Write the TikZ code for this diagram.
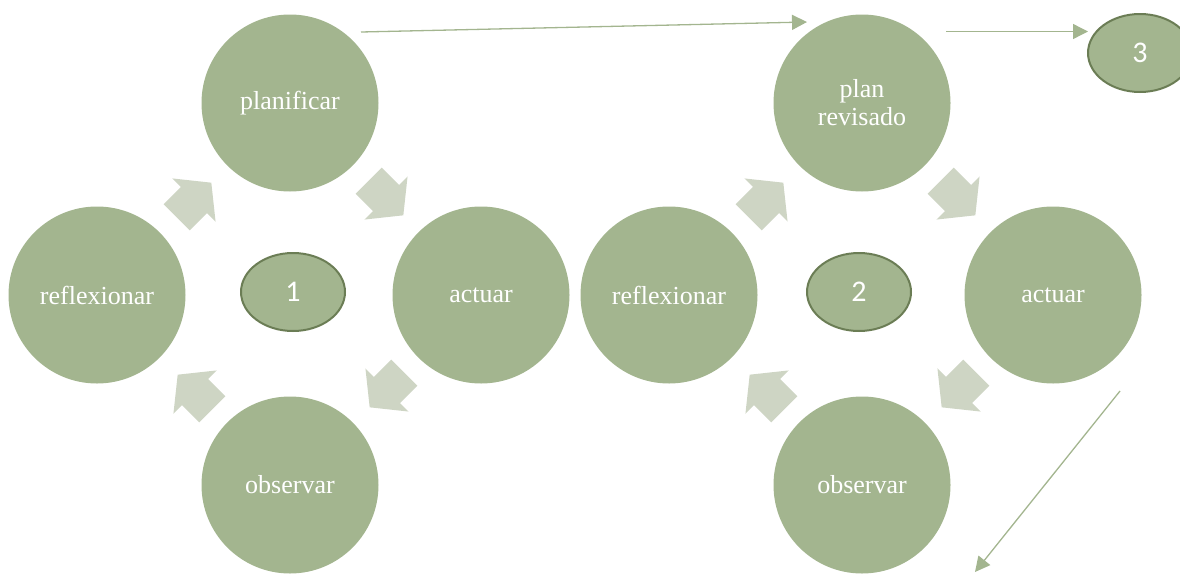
\documentclass[tikz,border=0pt]{standalone}
\usepackage{fontspec}
\setmainfont{Liberation Serif}
\newfontfamily\calib{Carlito}
\usetikzlibrary{arrows.meta,shapes.geometric}
\definecolor{cfill}{HTML}{A3B58F}
\definecolor{cedge}{HTML}{6B7D55}
\definecolor{blk}{HTML}{CED5C4}
\tikzset{
 circ/.style={circle, fill=cfill, minimum size=177pt, inner sep=0pt, text=white, font=\fontsize{26}{28}\selectfont, align=center},
 ell/.style={ellipse, draw=cedge, line width=2pt, fill=cfill, minimum width=104pt, minimum height=78pt, inner sep=0pt, text=white, font=\calib\fontsize{30}{32}\selectfont},
 conn/.style={draw=cfill, line width=1.3pt, -{Triangle[length=15pt,width=15pt]}},
 blockarrow/.pic={\fill[blk] (-24.5,-18.5) -- (0,-18.5) -- (0,-30.5) -- (24.5,0) -- (0,30.5) -- (0,18.5) -- (-24.5,18.5) -- cycle;}
}
\begin{document}
\begin{tikzpicture}[x=1pt,y=-1pt]
\useasboundingbox (0,0) rectangle (1180,573);
% left cycle
\node[circ] (plan1) at (290,103) {planificar};
\node[circ] (refl1) at (97,295) {reflexionar};
\node[circ] (act1) at (481,295) {actuar};
\node[circ] (obs1) at (290,485) {observar};
\node[ell] (e1) at (293,292) {1};
\pic[rotate=45] at (194,200) {blockarrow};
\pic[rotate=-45] at (386,198) {blockarrow};
\pic[rotate=-135] at (387,390) {blockarrow};
\pic[rotate=135] at (195,392) {blockarrow};
% right cycle
\node[circ] (plan2) at (862,103) {plan\\revisado};
\node[circ] (refl2) at (669,295) {reflexionar};
\node[circ] (act2) at (1053,295) {actuar};
\node[circ] (obs2) at (862,485) {observar};
\node[ell] (e2) at (859,292) {2};
\pic[rotate=45] at (766,200) {blockarrow};
\pic[rotate=-45] at (958,198) {blockarrow};
\pic[rotate=-135] at (959,390) {blockarrow};
\pic[rotate=135] at (767,392) {blockarrow};
% third
\node[ell] (e3) at (1140,53) {3};
% connectors
\coordinate (s1) at (361,32);
\coordinate (t1) at (807,22);
\draw[conn] (s1) -- (t1);
\coordinate (s2) at (946,31.5);
\coordinate (t2) at (1088,31.5);
\draw[conn] (s2) -- (t2);
\coordinate (s3) at (1120,391);
\coordinate (t3) at (975,572);
\draw[conn] (s3) -- (t3);
\end{tikzpicture}
\end{document}
